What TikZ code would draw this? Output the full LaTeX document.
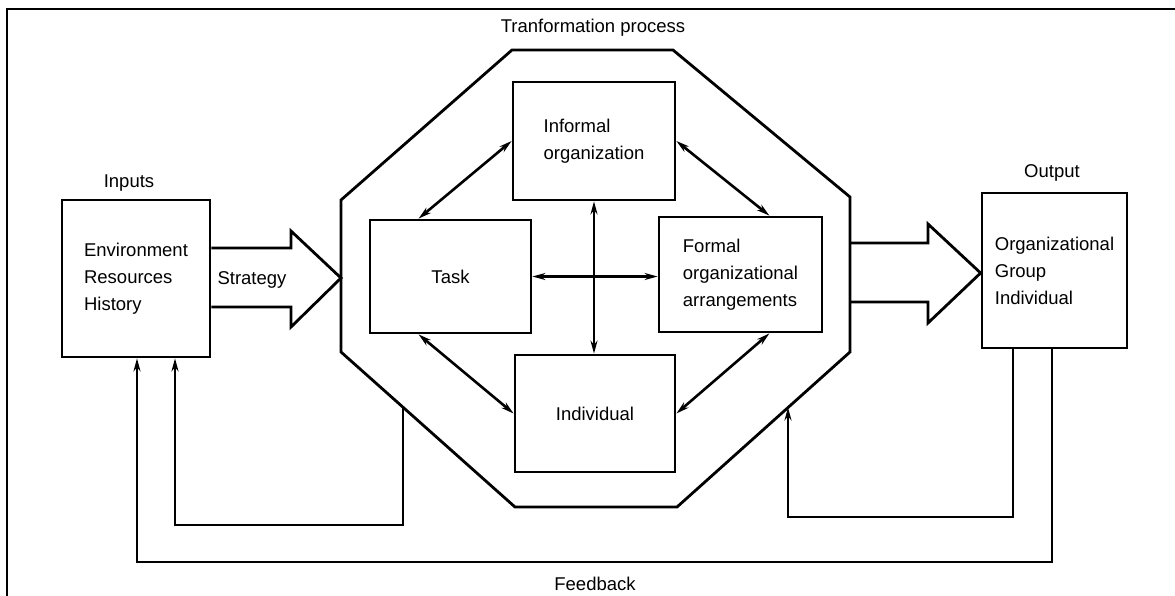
\documentclass[tikz,border=0pt]{standalone}
\usepackage{fontspec}
\setmainfont{Liberation Sans}
\usetikzlibrary{arrows.meta}
\begin{document}
\begin{tikzpicture}[x=1pt,y=-1pt,
  line width=2.8pt, line join=miter,
  txt/.style={font=\fontsize{18.5}{27}\selectfont, inner sep=0pt},
  blk/.style={draw, txt, align=left, inner sep=0pt},
  tip/.style={-{Stealth[length=13pt,width=7pt]}},
  dbl/.style={{Stealth[length=13pt,width=7pt]}-{Stealth[length=13pt,width=7pt]}, line width=2.6pt}]
\useasboundingbox (0,0) rectangle (1175,595);

% page frame (top and left rules)
\draw[line width=2.8pt] (7,600) -- (7,9) -- (1180,9);

% inputs and outputs
\node[blk, minimum width=148pt, minimum height=157pt] (inputs) at (136,278.5)
  {Environment\\Resources\\History};
\node[blk, minimum width=145pt, minimum height=155pt] (output) at (1054.5,270.5)
  {Organizational\\Group\\Individual};
\node[txt] (inlbl) at (129,183) {Inputs};
\node[txt] (outlbl) at (1052,173) {Output};

% transformation process: octagon
\coordinate (o1) at (341,200);
\coordinate (o2) at (512,50);
\coordinate (o3) at (673,50);
\coordinate (o4) at (850,197);
\coordinate (o5) at (850,352);
\coordinate (o6) at (677,507);
\coordinate (o7) at (515,507);
\coordinate (o8) at (341,352);
\draw (o1) -- (o2) -- (o3) -- (o4) -- (o5) -- (o6) -- (o7) -- (o8) -- cycle;
\node[txt] (tplbl) at (593,28) {Tranformation process};

% components
\node[blk, minimum width=162pt, minimum height=118pt] (informal) at (594,141)
  {Informal\\organization};
\node[blk, minimum width=161pt, minimum height=113pt] (task) at (450.5,276.5) {Task};
\node[blk, minimum width=163pt, minimum height=115pt] (formal) at (740.5,274.5)
  {Formal\\organizational\\arrangements};
\node[blk, minimum width=160pt, minimum height=117pt] (indiv) at (595,413.5) {Individual};

% fit relations
\draw[dbl] ([xshift=50pt]task.north west) -- (informal.west);
\draw[dbl] (informal.east) -- ([xshift=-54pt]formal.north east);
\draw[dbl] ([xshift=50pt]task.south west) -- (indiv.west);
\draw[dbl] ([xshift=-54pt]formal.south east) -- (indiv.east);
\draw[dbl] (informal.south) -- (informal.south |- indiv.north);
\draw[dbl] (task.east) -- (task.east -| formal.west);

% strategy block arrow
\draw (inputs.east |- 0,248) -- (291,248) -- (291,231) -- (o1 |- 0,278)
      -- (291,327) -- (291,307) -- (inputs.east |- 0,307);
\node[txt] (strat) at (252,280) {Strategy};

% output block arrow
\draw (o4 |- 0,243) -- (928,243) -- (928,224) -- (output.west |- 0,273)
      -- (928,323) -- (928,302) -- (o4 |- 0,302);

% feedback loops
\coordinate (fbl) at (403,407);
\coordinate (fbr) at (788,407.5);
\draw[tip] (fbl) -- (403,525) -- (175,525) -- (175,0 |- inputs.south);
\draw[tip] ([xshift=-41.5pt]output.south) -- (1013,517) -- (788,517) -- (fbr);
\draw[tip] (1052,0 |- output.south) -- (1052,562) -- (137,562) -- (137,0 |- inputs.south);
\node[txt] (fblbl) at (595,584) {Feedback};
\end{tikzpicture}
\end{document}
